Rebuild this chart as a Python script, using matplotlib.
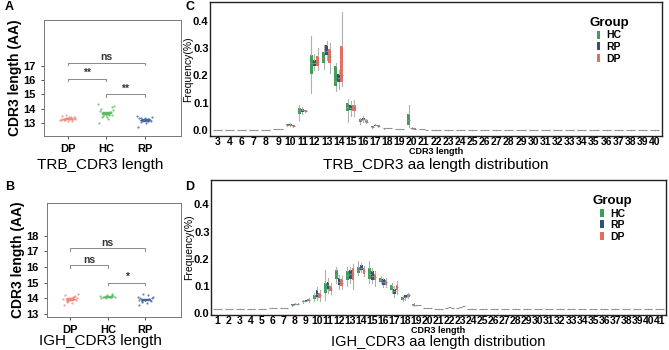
import numpy as np
import matplotlib
matplotlib.use("Agg")
import matplotlib.pyplot as plt
from matplotlib.patches import Patch

plt.rcParams['font.family'] = ['Liberation Sans', 'DejaVu Sans']

# ---- panel A / B: per-sample mean CDR3 length ----
groups_ab = ['DP', 'HC', 'RP']
trb_dp = [13.2, 13.3, 13.25, 13.4, 13.35, 13.15, 13.5, 13.3, 13.2, 13.45, 13.6, 13.28, 13.22, 13.38, 13.18, 13.32, 13.42, 13.26]
trb_hc = [13.0, 13.3, 13.5, 13.6, 13.7, 13.8, 14.0, 14.2, 14.3, 13.55, 13.65, 13.75, 13.4, 13.9, 13.6, 13.85, 13.45, 14.1, 13.7, 13.62]
trb_rp = [12.7, 13.0, 13.1, 13.2, 13.25, 13.3, 13.35, 13.4, 13.5, 13.15, 13.22, 13.28, 13.33, 13.18, 13.38]
igh_dp = [13.6, 13.7, 13.8, 13.9, 14.0, 14.1, 14.2, 14.3, 13.95, 14.05, 13.85, 14.15, 13.75, 14.0, 13.9]
igh_hc = [14.0, 14.05, 14.1, 14.15, 14.2, 14.3, 14.1, 14.05, 14.12, 14.08, 14.0, 14.18]
igh_rp = [13.6, 13.7, 13.8, 13.85, 13.9, 13.95, 14.0, 14.05, 14.1, 14.2, 14.3, 13.9, 13.75, 14.0, 13.88, 13.92]
jitter = [-0.18, 0.05, -0.08, 0.15, -0.02, 0.1, -0.14, 0.2, -0.2, 0.08, -0.05, 0.12, -0.1, 0.18, 0.0, -0.16, 0.03, 0.14, -0.12, 0.06]

trb_sig = [('DP', 'RP', 17.2, 'ns'), ('DP', 'HC', 16.1, '**'), ('HC', 'RP', 15.0, '**')]
igh_sig = [('DP', 'RP', 17.2, 'ns'), ('DP', 'HC', 16.1, 'ns'), ('HC', 'RP', 15.0, '*')]

# ---- panel C / D: length distribution, box stats (lo, q1, med, q3, hi) ----
trb_len = [3, 4, 6, 7, 8] + list(range(9, 41))
trb_box_hc = [0.001, 0.001, 0.001, 0.001, 0.001, 0.004,
              (0.015, 0.017, 0.019, 0.021, 0.023), (0.035, 0.060, 0.072, 0.082, 0.090),
              (0.135, 0.207, 0.245, 0.276, 0.345), (0.225, 0.244, 0.265, 0.284, 0.310),
              (0.142, 0.160, 0.180, 0.233, 0.247), (0.030, 0.070, 0.085, 0.100, 0.115),
              (0.022, 0.030, 0.035, 0.040, 0.045), (0.009, 0.011, 0.012, 0.014, 0.016),
              (0.005, 0.006, 0.007, 0.008, 0.009), 0.003,
              (0.010, 0.018, 0.035, 0.058, 0.090), 0.002] + [0.0005] * 19
trb_box_rp = [0.001, 0.001, 0.001, 0.001, 0.001, 0.004,
              (0.016, 0.018, 0.020, 0.022, 0.024), (0.060, 0.067, 0.072, 0.078, 0.085),
              (0.220, 0.236, 0.245, 0.258, 0.280), (0.255, 0.273, 0.290, 0.313, 0.325),
              (0.150, 0.175, 0.190, 0.207, 0.220), (0.050, 0.075, 0.082, 0.090, 0.105),
              (0.030, 0.035, 0.040, 0.045, 0.050), (0.013, 0.015, 0.017, 0.019, 0.021),
              0.007, 0.003,
              (0.005, 0.006, 0.007, 0.009, 0.010), 0.002] + [0.0005] * 19
trb_box_dp = [0.001, 0.001, 0.001, 0.001, 0.001, 0.004,
              (0.011, 0.013, 0.015, 0.017, 0.019), (0.067, 0.069, 0.071, 0.073, 0.075),
              (0.220, 0.236, 0.250, 0.270, 0.300), (0.210, 0.247, 0.270, 0.295, 0.320),
              (0.160, 0.175, 0.200, 0.309, 0.433), (0.050, 0.070, 0.080, 0.090, 0.110),
              (0.024, 0.028, 0.031, 0.035, 0.040), (0.012, 0.014, 0.016, 0.017, 0.019),
              0.006, 0.003,
              (0.003, 0.004, 0.005, 0.006, 0.007), 0.001] + [0.0005] * 19

igh_len = list(range(1, 42))
igh_box_hc = [0.015, 0.015, 0.015, 0.015, 0.016, 0.018, 0.020,
              (0.026, 0.028, 0.030, 0.032, 0.034), (0.038, 0.040, 0.043, 0.046, 0.050),
              (0.045, 0.052, 0.058, 0.066, 0.075), (0.050, 0.073, 0.090, 0.110, 0.157),
              (0.110, 0.124, 0.140, 0.157, 0.170), (0.100, 0.121, 0.140, 0.156, 0.170),
              (0.140, 0.149, 0.160, 0.170, 0.190), (0.110, 0.127, 0.145, 0.167, 0.190),
              (0.110, 0.116, 0.122, 0.130, 0.135), (0.075, 0.085, 0.095, 0.103, 0.110),
              (0.045, 0.048, 0.053, 0.058, 0.062), (0.025, 0.028, 0.031, 0.035, 0.037),
              0.020, 0.015, 0.017, 0.020] + [0.015] * 18
igh_box_rp = [0.015, 0.015, 0.015, 0.015, 0.016, 0.018, 0.020,
              (0.028, 0.030, 0.032, 0.034, 0.036), (0.040, 0.042, 0.045, 0.047, 0.050),
              (0.050, 0.060, 0.072, 0.085, 0.095), (0.075, 0.090, 0.105, 0.116, 0.130),
              (0.090, 0.103, 0.115, 0.130, 0.140), (0.110, 0.127, 0.145, 0.160, 0.170),
              (0.150, 0.157, 0.165, 0.176, 0.185), (0.110, 0.121, 0.138, 0.156, 0.165),
              (0.095, 0.105, 0.115, 0.124, 0.130), (0.060, 0.070, 0.080, 0.090, 0.100),
              (0.050, 0.055, 0.060, 0.065, 0.068), 0.030,
              0.018, 0.015, 0.022, 0.022] + [0.015] * 18
igh_box_dp = [0.015, 0.015, 0.015, 0.015, 0.016, 0.018, 0.020,
              (0.028, 0.030, 0.033, 0.035, 0.037), (0.042, 0.045, 0.048, 0.052, 0.056),
              (0.045, 0.055, 0.065, 0.075, 0.085), (0.070, 0.083, 0.090, 0.100, 0.110),
              (0.090, 0.100, 0.110, 0.124, 0.135), (0.090, 0.121, 0.145, 0.167, 0.180),
              (0.135, 0.145, 0.155, 0.165, 0.175), (0.100, 0.121, 0.133, 0.145, 0.155),
              (0.095, 0.105, 0.114, 0.123, 0.130), (0.070, 0.085, 0.095, 0.103, 0.120),
              (0.055, 0.060, 0.065, 0.070, 0.073), 0.030,
              0.018, 0.015, 0.020, 0.025] + [0.015] * 18

pt_colors = {'DP': '#EE8A78', 'HC': '#5DBB63', 'RP': '#44679C'}
box_colors = {'HC': '#3E9E58', 'RP': '#34507C', 'DP': '#E0705C'}

fig = plt.figure(figsize=(6.69, 3.5), dpi=100)
W, H = 669.0, 350.0


def rect(l, t, r, b):
    return [l / W, 1 - b / H, (r - l) / W, (b - t) / H]


def strip_panel(ax, data, sig, ylim, yticks):
    for i, (g, vals) in enumerate(zip(groups_ab, data)):
        xs = [i + jitter[k % len(jitter)] for k in range(len(vals))]
        ax.scatter(xs, vals, s=2.5, color=pt_colors[g], alpha=0.8, lw=0, zorder=3)
        m = np.mean(vals)
        se = np.std(vals) / np.sqrt(len(vals))
        ax.errorbar(i, m, yerr=se, color=pt_colors[g], capsize=3, lw=0.8, zorder=4)
        ax.plot([i - 0.12, i + 0.12], [m, m], color=pt_colors[g], lw=0.8, zorder=4)
    for a, b, y, lab in sig:
        x1, x2 = groups_ab.index(a), groups_ab.index(b)
        ax.plot([x1, x1, x2, x2], [y - 0.15, y, y, y - 0.15], color='#8a8a8a', lw=0.7)
        ax.text((x1 + x2) / 2, y + 0.05, lab, ha='center', va='bottom', fontsize=7.5,
                fontweight='bold', color='#333333')
    ax.set_xlim(-0.62, 2.95)
    ax.set_ylim(*ylim)
    ax.set_yticks(yticks)
    ax.set_xticks(range(3))
    ax.set_xticklabels(groups_ab)
    ax.tick_params(labelsize=8, length=2.5, width=0.6, colors='#333333', labelcolor='black')
    for t in ax.get_xticklabels() + ax.get_yticklabels():
        t.set_fontweight('bold')
    for s in ax.spines.values():
        s.set_color('#777777')
        s.set_linewidth(0.7)
    ax.set_ylabel('CDR3 length (AA)', fontsize=10, fontweight='bold', labelpad=1)


def dist_panel(ax, lengths, boxes, ylim):
    offs = {'HC': -0.25, 'RP': 0.0, 'DP': 0.25}
    for g, bx in boxes:
        stats = []
        for s in bx:
            if not isinstance(s, tuple):
                s = (s,) * 5
            stats.append(dict(whislo=s[0], q1=s[1], med=s[2], q3=s[3], whishi=s[4], fliers=[]))
        pos = [i + offs[g] for i in range(len(lengths))]
        ax.bxp(stats, positions=pos, widths=0.25, patch_artist=True, showcaps=False,
               boxprops=dict(facecolor=box_colors[g], edgecolor='none'),
               whiskerprops=dict(color='#b0b0b0', lw=0.8),
               medianprops=dict(color='#8c8c8c', lw=0.8), manage_ticks=False)
    ax.set_xlim(-0.6, len(lengths) - 0.4)
    ax.set_ylim(*ylim)
    ax.set_yticks([0.0, 0.1, 0.2, 0.3, 0.4])
    ax.set_xticks(range(len(lengths)))
    ax.set_xticklabels([str(l) for l in lengths])
    ax.tick_params(axis='x', labelsize=7.5, length=0, pad=1)
    ax.tick_params(axis='y', labelsize=8, length=0, pad=1)
    for t in ax.get_xticklabels() + ax.get_yticklabels():
        t.set_fontweight('bold')
    for s in ax.spines.values():
        s.set_linewidth(1.0)
        s.set_color('#222222')
    ax.set_ylabel('Frequency(%)', fontsize=7.5, labelpad=0)
    handles = [Patch(facecolor=box_colors[g], edgecolor='none') for g in ['HC', 'RP', 'DP']]
    leg = ax.legend(handles, ['HC', 'RP', 'DP'], title='Group', loc='upper left',
                    bbox_to_anchor=(0.83, 0.92), frameon=False, fontsize=7.5,
                    handlelength=0.35, handleheight=0.8, handletextpad=0.6,
                    labelspacing=0.15, borderaxespad=0)
    leg.get_title().set_fontweight('bold')
    leg.get_title().set_fontsize(9.5)
    for t in leg.get_texts():
        t.set_fontweight('bold')


axA = fig.add_axes(rect(44, 20, 181, 136))
axB = fig.add_axes(rect(47, 203, 181, 317))
axC = fig.add_axes(rect(210, 2, 662, 136))
axD = fig.add_axes(rect(211, 180, 666, 315))

strip_panel(axA, [trb_dp, trb_hc, trb_rp], trb_sig, (12.1, 20.2), range(13, 18))
strip_panel(axB, [igh_dp, igh_hc, igh_rp], igh_sig, (12.8, 20.1), range(13, 19))
dist_panel(axC, trb_len, [('HC', trb_box_hc), ('RP', trb_box_rp), ('DP', trb_box_dp)], (-0.022, 0.469))
dist_panel(axD, igh_len, [('HC', igh_box_hc), ('RP', igh_box_rp), ('DP', igh_box_dp)], (-0.007, 0.49))

# titles under each panel, placed in figure pixels
for txt, x, y, fs, fw in [('TRB_CDR3 length', 100, 165, 11, 'normal'),
                          ('IGH_CDR3 length', 100, 341, 11, 'normal'),
                          ('CDR3 length', 436, 152, 6.5, 'bold'),
                          ('TRB_CDR3 aa length distribution', 436, 165, 11, 'normal'),
                          ('CDR3 length', 438, 330.5, 6.5, 'bold'),
                          ('IGH_CDR3 aa length distribution', 438, 342, 10.5, 'normal')]:
    fig.text(x / W, 1 - y / H, txt, fontsize=fs, fontweight=fw, ha='center', va='center')

for lab, x, y in [('A', 5, 7), ('B', 5, 187), ('C', 185, 7), ('D', 185, 187)]:
    fig.text(x / W, 1 - y / H, lab, fontsize=9, fontweight='bold', va='center', ha='left')

fig.savefig('out.png', dpi=100)
